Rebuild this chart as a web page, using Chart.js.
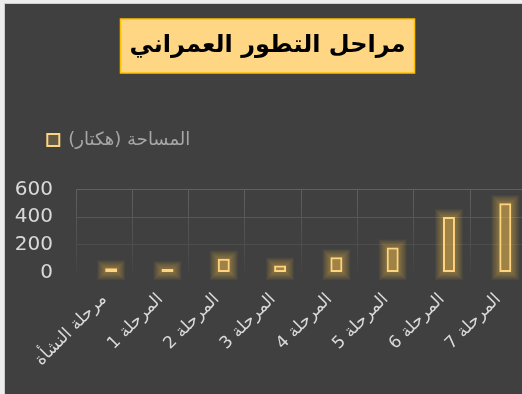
<!DOCTYPE html>
<html>
<head>
<meta charset="utf-8">
<script src="https://cdn.jsdelivr.net/npm/chart.js@4"></script>
<style>
  html, body { margin:0; padding:0; width:522px; height:394px; overflow:hidden; background:#ededed; }
  #wrap { position:absolute; left:4px; top:3px; width:560px; height:400px; border-left:1px solid #cdcdcd; border-top:1px solid #cdcdcd; background:#404040; }
  canvas { position:absolute; left:0; top:0; direction:rtl; }
</style>
</head>
<body>
<div id="wrap"><canvas id="c" width="540" height="390" dir="rtl"></canvas></div>
<script>
const chartTitle = 'مراحل التطور العمراني';
const seriesName = 'المساحة (هكتار)';
const categories = ['مرحلة النشأة', 'المرحلة 1', 'المرحلة 2', 'المرحلة 3', 'المرحلة 4', 'المرحلة 5', 'المرحلة 6', 'المرحلة 7'];
const areaValues = [30, 25, 100, 50, 110, 180, 400, 500];
const emptySeries = [null, null, null, null, null, null, null, null];
const yTicks = [0, 200, 400, 600];

const TITLE_FONT = { family: 'DejaVu Sans', size: 24, weight: 'bold', lineHeight: 1.2 };

function gridGradient(ctx) {
  const ch = ctx.chart;
  const a = ch.chartArea;
  if (!a) return '#555';
  const g = ch.ctx.createLinearGradient(0, a.top, 0, a.bottom);
  g.addColorStop(0, '#606060');
  g.addColorStop(1, '#444444');
  return g;
}

const layoutTweak = {
  id: 'layoutTweak',
  afterLayout(chart) {
    const lg = chart.legend;
    const dx = 28.7, dy = -30.3;
    lg.left += dx; lg.right += dx; lg.top += dy; lg.bottom += dy;
  },
  beforeDraw(chart) {
    const t = chart.titleBlock;
    const ctx = chart.ctx;
    ctx.direction = 'rtl';
    ctx.save();
    ctx.font = 'bold ' + TITLE_FONT.size + 'px "' + TITLE_FONT.family + '"';
    const w = ctx.measureText(chartTitle).width;
    const cx = (t.left + t.right) / 2;
    const cy = t.top + t.options.padding.top + TITLE_FONT.size * TITLE_FONT.lineHeight / 2;
    const bw = w + 18, bh = 54;
    ctx.fillStyle = '#FFD683';
    ctx.fillRect(cx - bw / 2, cy - bh / 2, bw, bh);
    ctx.strokeStyle = '#FFC000';
    ctx.lineWidth = 1.5;
    ctx.strokeRect(cx - bw / 2, cy - bh / 2, bw, bh);
    ctx.restore();
  },
  beforeDatasetDraw(chart, args) {
    if (args.index !== 1) return;
    const ctx = chart.ctx;
    ctx.save();
    ctx.fillStyle = 'rgba(255,205,80,0.055)';
    args.meta.data.forEach(el => {
      const x = el.x, y = el.y, base = el.base, width = el.width;
      const top = Math.min(y, base), h = Math.abs(base - y);
      for (let g = 8; g >= 0; g -= 1) {
        ctx.fillRect(x - width / 2 - g, top - g, width + 2 * g, h + 2 * g);
      }
    });
    ctx.restore();
  }
};

new Chart(document.getElementById('c'), {
  type: 'bar',
  data: {
    labels: categories,
    datasets: [
      { label: '', data: emptySeries, backgroundColor: 'transparent' },
      {
        label: seriesName,
        data: areaValues,
        backgroundColor: 'rgba(255,204,102,0.18)',
        borderColor: '#FFD480',
        borderWidth: 2,
        borderSkipped: false
      }
    ]
  },
  options: {
    responsive: false,
    animation: false,
    devicePixelRatio: 1,
    categoryPercentage: 0.5,
    barPercentage: 0.85,
    layout: { padding: { left: 3.6, right: 18.6, top: 0, bottom: 0 } },
    plugins: {
      title: {
        display: true,
        text: chartTitle,
        color: '#000000',
        font: TITLE_FONT,
        padding: { top: 27.6, bottom: 90.9 }
      },
      legend: {
        display: true,
        position: 'top',
        align: 'start',
        labels: {
          filter: item => item.datasetIndex === 1,
          boxWidth: 12,
          boxHeight: 12,
          padding: 10,
          color: '#a6a6a6',
          font: { family: 'DejaVu Sans', size: 18 }
        }
      },
      tooltip: { enabled: false }
    },
    scales: {
      x: {
        grid: { color: gridGradient, drawTicks: false, offset: true },
        border: { display: false },
        ticks: {
          color: '#d9d9d9',
          font: { family: 'DejaVu Sans', size: 17 },
          minRotation: 45,
          maxRotation: 45,
          padding: 17
        },
        afterFit(s) { s.height = 121.5; }
      },
      y: {
        min: 0,
        max: 600,
        afterBuildTicks(s) { s.ticks = yTicks.map(v => ({ value: v })); },
        grid: {
          color: c => (c.tick && c.tick.value === 0) ? 'transparent' : gridGradient(c),
          drawTicks: false
        },
        border: { display: false },
        ticks: {
          color: '#d9d9d9',
          font: { family: 'DejaVu Sans', size: 20 },
          padding: 23
        },
        afterFit(s) { s.width = 67.4; }
      }
    }
  },
  plugins: [layoutTweak]
});
</script>
</body>
</html>
